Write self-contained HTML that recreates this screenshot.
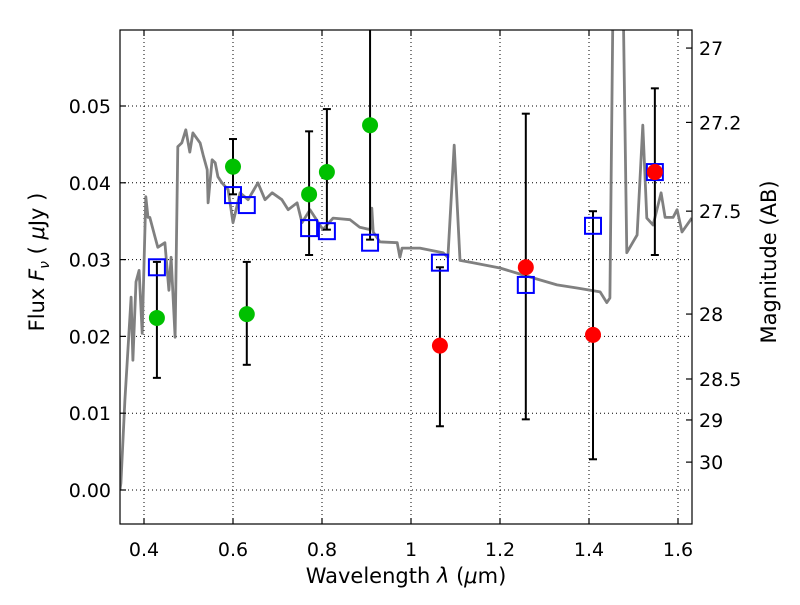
<!DOCTYPE html>
<html><head><meta charset="utf-8"><style>
body{margin:0;background:#fff;}
svg text{font-family:"DejaVu Sans","Liberation Sans",sans-serif;}
</style></head><body>
<svg id="chart" width="800" height="600" viewBox="0 0 800 600" xmlns="http://www.w3.org/2000/svg"></svg>
<script>
const specLam=[0.346,0.348,0.357,0.371,0.375,0.382,0.389,0.396,0.404,0.409,0.413,0.425,0.431,0.447,0.456,0.461,0.470,0.476,0.485,0.494,0.503,0.510,0.526,0.533,0.542,0.544,0.553,0.560,0.566,0.575,0.589,0.600,0.616,0.634,0.656,0.672,0.688,0.710,0.724,0.744,0.755,0.773,0.802,0.825,0.863,0.885,0.908,0.912,0.915,0.930,0.969,0.975,0.980,1.020,1.072,1.083,1.097,1.110,1.139,1.200,1.252,1.328,1.373,1.425,1.440,1.447,1.456,1.474,1.485,1.508,1.521,1.530,1.544,1.562,1.571,1.589,1.598,1.609,1.631];
const specFlux=[0,0.0009,0.0117,0.0251,0.0169,0.0271,0.0286,0.0204,0.0382,0.0355,0.0355,0.0329,0.0316,0.0322,0.0260,0.0303,0.0199,0.0447,0.0452,0.0469,0.0440,0.0465,0.0452,0.0436,0.0417,0.0374,0.0430,0.0426,0.0408,0.0400,0.0391,0.0348,0.0387,0.0378,0.0400,0.0378,0.0387,0.0378,0.0365,0.0374,0.0348,0.0365,0.0339,0.0354,0.0352,0.0342,0.0339,0.0367,0.0336,0.0323,0.0322,0.0303,0.0315,0.0315,0.0309,0.0303,0.0449,0.0299,0.0296,0.0289,0.0280,0.0267,0.0263,0.0258,0.0244,0.0250,0.075,0.075,0.0309,0.0332,0.0475,0.0354,0.0345,0.0387,0.0355,0.0355,0.0365,0.0336,0.0354];
const greenLam=[0.429,0.600,0.631,0.771,0.811,0.908];
const greenFlux=[0.0224,0.0421,0.0229,0.0385,0.0414,0.0475];
const greenHi=[0.0297,0.0457,0.0297,0.0467,0.0496,0.070];
const greenLo=[0.0146,0.0385,0.0163,0.0306,0.0339,0.0326];
const redLam=[1.065,1.258,1.409,1.548];
const redFlux=[0.0188,0.0290,0.0202,0.0414];
const redHi=[0.0290,0.0490,0.0363,0.0523];
const redLo=[0.0083,0.0092,0.0040,0.0306];
const sqLam=[0.429,0.600,0.631,0.771,0.811,0.908,1.065,1.258,1.409,1.548];
const sqFlux=[0.0290,0.0384,0.0371,0.0341,0.0337,0.0322,0.0296,0.0267,0.0344,0.0414];
const xTicks=[0.4,0.6,0.8,1,1.2,1.4,1.6];
const xTickLabels=["0.4","0.6","0.8","1","1.2","1.4","1.6"];
const yTicks=[0,0.01,0.02,0.03,0.04,0.05];
const yTickLabels=["0.00","0.01","0.02","0.03","0.04","0.05"];
const magTicks=[27,27.2,27.5,28,28.5,29,30];
const magTickLabels=["27","27.2","27.5","28","28.5","29","30"];

const L=120,R=692,T=30,B=524;
const X=v=>144+(v-0.4)*445;
const Y=v=>490-v*7680;
const svg=document.getElementById('chart');
const NS='http://www.w3.org/2000/svg';
function mk(tag,attrs,parent){const e=document.createElementNS(NS,tag);for(const k in attrs)e.setAttribute(k,attrs[k]);(parent||svg).appendChild(e);return e;}
const defs=mk('defs',{});
const cp=mk('clipPath',{id:'clip'},defs);mk('rect',{x:L,y:T,width:R-L,height:B-T},cp);

const grid=mk('g',{stroke:'#000','stroke-width':1,'stroke-dasharray':'1,3'});


xTicks.forEach(t=>mk('line',{x1:X(t),x2:X(t),y1:T,y2:B},grid));
yTicks.forEach(t=>mk('line',{x1:L,x2:R,y1:Y(t),y2:Y(t)},grid));

const plot=mk('g',{'clip-path':'url(#clip)'});
let d='';specLam.forEach((l,i)=>{d+=(i?'L':'M')+X(l).toFixed(1)+','+Y(specFlux[i]).toFixed(1);});
const sp=mk('path',{d:d,fill:'none',stroke:'#808080','stroke-width':2.8,'stroke-linejoin':'round'},plot);



function errs(lams,hi,lo,name){
 lams.forEach((l,i)=>{
  const g=mk('g',{stroke:'#000','stroke-width':2},plot);
  
  
  const x=X(l);
  mk('line',{x1:x,x2:x,y1:Y(hi[i]),y2:Y(lo[i])},g);
  mk('line',{x1:x-4,x2:x+4,y1:Y(hi[i]),y2:Y(hi[i])},g);
  mk('line',{x1:x-4,x2:x+4,y1:Y(lo[i]),y2:Y(lo[i])},g);
 });
}
errs(greenLam,greenHi,greenLo,'detection');
errs(redLam,redHi,redLo,'nondetection');
sqLam.forEach((l,i)=>{
 const r=mk('rect',{x:X(l)-8,y:Y(sqFlux[i])-8,width:16,height:16,fill:'none',stroke:'#0000ff','stroke-width':2},plot);
 
 
});
greenLam.forEach((l,i)=>{
 const c=mk('circle',{cx:X(l),cy:Y(greenFlux[i]),r:8,fill:'#00c000'},plot);
 
 
});
redLam.forEach((l,i)=>{
 const c=mk('circle',{cx:X(l),cy:Y(redFlux[i]),r:8,fill:'#ff0000'},plot);
 
 
});

const fr=mk('rect',{x:L,y:T,width:R-L,height:B-T,fill:'none',stroke:'#000','stroke-width':1.2});



xTicks.forEach((t,i)=>{
 mk('line',{x1:X(t),x2:X(t),y1:B,y2:B-6,stroke:'#000','stroke-width':1.2});
 mk('line',{x1:X(t),x2:X(t),y1:T,y2:T+6,stroke:'#000','stroke-width':1.2});
 const tx=mk('text',{x:X(t),y:556,'font-size':19,'text-anchor':'middle'});
 tx.textContent=xTickLabels[i];
 
 
});
yTicks.forEach((t,i)=>{
 mk('line',{x1:L,x2:L+6,y1:Y(t),y2:Y(t),stroke:'#000','stroke-width':1.2});
 const tx=mk('text',{x:111,y:Y(t)+7,'font-size':19,'text-anchor':'end'});
 tx.textContent=yTickLabels[i];
 
 
});
magTicks.forEach((m,i)=>{
 const y=Y(Math.pow(10,(23.9-m)/2.5));
 mk('line',{x1:R,x2:R-6,y1:y,y2:y,stroke:'#000','stroke-width':1.2});
 const tx=mk('text',{x:699,y:y+7,'font-size':19});
 tx.textContent=magTickLabels[i];
 
 
});
</script>
<svg width="800" height="600" style="position:absolute;left:0;top:0">
<text x="406" y="583" font-size="21" text-anchor="middle" font-family="DejaVu Sans, Liberation Sans, sans-serif">Wavelength  <tspan font-style="italic">λ</tspan> (<tspan font-style="italic">μ</tspan>m)</text>
<text transform="translate(44,262) rotate(-90)" font-size="21" text-anchor="middle" font-family="DejaVu Sans, Liberation Sans, sans-serif">Flux  <tspan font-style="italic">F</tspan><tspan font-style="italic" font-size="14" dy="5">ν</tspan><tspan dy="-5">  ( </tspan><tspan font-style="italic">μ</tspan>Jy )</text>
<text transform="translate(776,262) rotate(-90)" font-size="21" text-anchor="middle" font-family="DejaVu Sans, Liberation Sans, sans-serif">Magnitude (AB)</text>
</svg>
</body></html>
